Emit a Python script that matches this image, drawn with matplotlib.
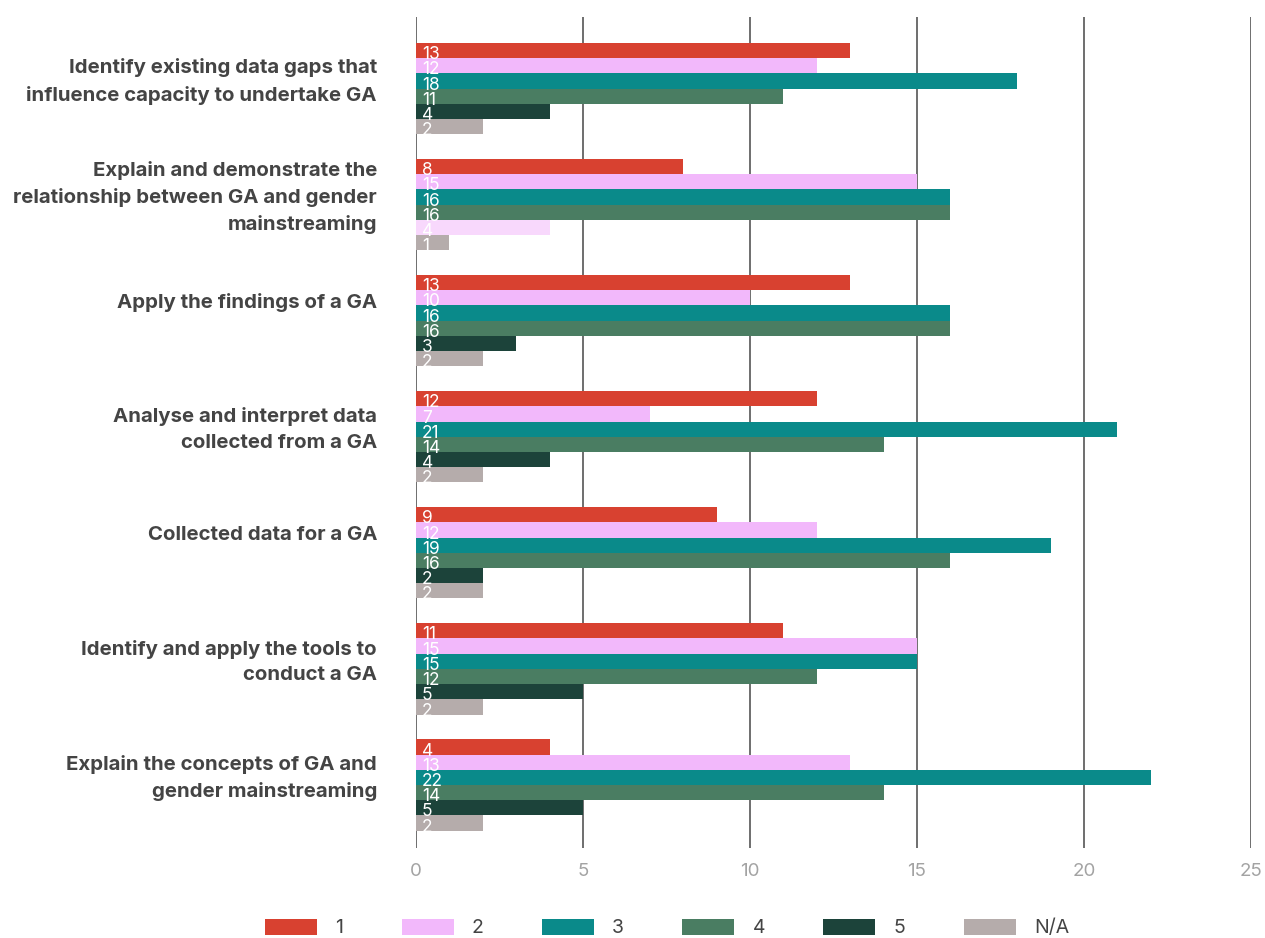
import matplotlib
matplotlib.use('Agg')
import matplotlib.pyplot as plt
from matplotlib.transforms import offset_copy
from matplotlib.patches import Patch

categories = [
    "Identify existing data gaps that\ninfluence capacity to undertake GA",
    "Explain and demonstrate the\nrelationship between GA and gender\nmainstreaming",
    "Apply the findings of a GA",
    "Analyse and interpret data\ncollected from a GA",
    "Collected data for a GA",
    "Identify and apply the tools to\nconduct a GA",
    "Explain the concepts of GA and\ngender mainstreaming",
]
series_names = ['1', '2', '3', '4', '5', 'N/A']
s1 = [13, 8, 13, 12, 9, 11, 4]
s2 = [12, 15, 10, 7, 12, 15, 13]
s3 = [18, 16, 16, 21, 19, 15, 22]
s4 = [11, 16, 16, 14, 16, 12, 14]
s5 = [4, 4, 3, 4, 2, 5, 5]
sna = [2, 1, 2, 2, 2, 2, 2]
series_values = [s1, s2, s3, s4, s5, sna]
x_ticks = [0, 5, 10, 15, 20, 25]

colors = ['#d84130', '#f2b8fb', '#0a8a8a', '#4a7d62', '#1c433a', '#b5acab']
highlight = {(1, 4): '#f8d8fc'}  # (category index, series index) drawn in light pink

plt.rcParams['font.family'] = ['Inter', 'DejaVu Sans']

fig = plt.figure(figsize=(12.65, 9.38), dpi=100)
ax = fig.add_axes([416 / 1265, 1 - 848 / 938, 835 / 1265, (848 - 17) / 938])

h = 0.131
n = len(series_values)
for j, vals in enumerate(series_values):
    for i, v in enumerate(vals):
        y = i + (j - (n - 1) / 2) * h
        c = highlight.get((i, j), colors[j])
        ax.barh(y, v, height=h, color=c, zorder=3, linewidth=0)
        tr = offset_copy(ax.transData, fig=fig, x=6, y=-1, units='dots')
        ax.text(0, y + h / 2, str(v), transform=tr, color='white',
                fontsize=12.5, va='baseline', ha='left', zorder=4)

ax.set_xlim(0, 25)
ax.set_ylim(6.543, -0.616)
ax.set_xticks(x_ticks)
ax.set_yticks([])
for x in x_ticks:
    ax.axvline(x, color='#555555', lw=1.2, zorder=1)
for s in ax.spines.values():
    s.set_visible(False)
ax.tick_params(axis='x', length=0, pad=11, labelsize=13.5, labelcolor='#a3a3a3')

for i, cat in enumerate(categories):
    nlines = cat.count('\n') + 1
    up = 18 if nlines == 1 else 7
    tr = offset_copy(ax.transData, fig=fig, x=-39, y=up, units='dots')
    ax.text(0, i, cat, transform=tr, ha='right', va='center', fontsize=14.7,
            fontweight='bold', color='#444444', linespacing=1.55)

handles = [Patch(facecolor=c, edgecolor='none') for c in colors]
fig.legend(handles, series_names, loc='center', bbox_to_anchor=(667 / 1265, 1 - 928 / 938),
           ncol=6, frameon=False, fontsize=14, labelcolor='#444444',
           handlelength=2.68, handleheight=0.9, handletextpad=0.93, columnspacing=3.0)

fig.savefig('out.png', dpi=100)
